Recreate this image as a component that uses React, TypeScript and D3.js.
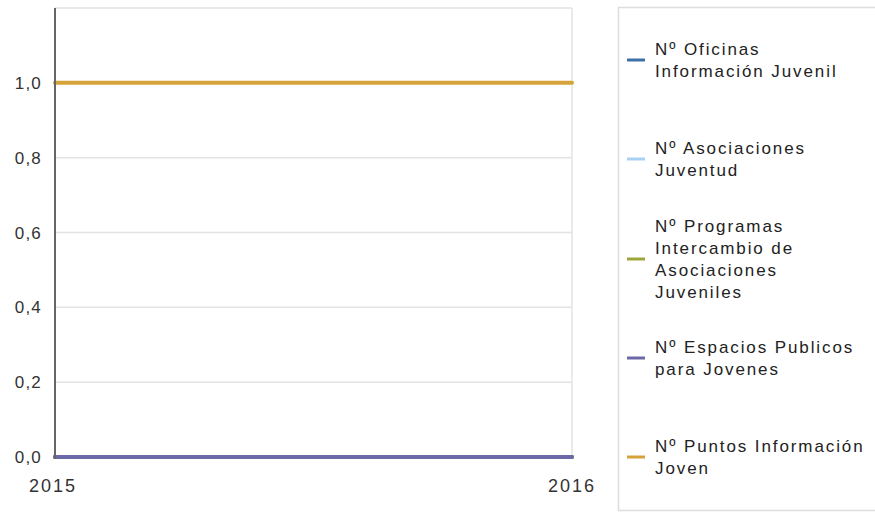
import React from "react";
import * as d3 from "d3";

const years = ["2015", "2016"];
const seriesNames = [
  ["Nº Oficinas", "Información Juvenil"],
  ["Nº Asociaciones", "Juventud"],
  ["Nº Programas", "Intercambio de", "Asociaciones", "Juveniles"],
  ["Nº Espacios Publicos", "para Jovenes"],
  ["Nº Puntos Información", "Joven"],
];
const seriesColors = ["#3d6fa6", "#a9d0f2", "#9ea63a", "#6b6aa6", "#d6a23a"];
const seriesValues = [
  [0, 0],
  [0, 0],
  [0, 0],
  [0, 0],
  [1, 1],
];
const yTicks = [0, 0.2, 0.4, 0.6, 0.8, 1.0, 1.2];
const legendSwatchY = [60, 159, 259, 358, 457];

export default function App() {
  const W = 875, H = 512;
  const left = 55, right = 572, top = 8, bottom = 457;
  const x = d3.scalePoint<string>().domain(years).range([left, right]);
  const y = d3.scaleLinear().domain([0, 1.2]).range([bottom, top]);
  const line = d3
    .line<number>()
    .x((_, i) => x(years[i]) as number)
    .y((d) => y(d));
  const font = "'Liberation Sans', Arial, sans-serif";
  const fmt = (v: number) => v.toFixed(1).replace(".", ",");
  return (
    <svg
      width={W}
      height={H}
      style={{ position: "absolute", left: 0, top: 0, background: "#fff" }}
      fontFamily={font}
    >
      {yTicks.map((t) => (
        <line key={t} x1={left} x2={right} y1={y(t)} y2={y(t)} stroke="#e3e3e3" strokeWidth={1.5} />
      ))}
      <line x1={right} x2={right} y1={top} y2={bottom} stroke="#e3e3e3" strokeWidth={1.5} />
      {yTicks
        .filter((t) => t <= 1.0001)
        .map((t) => (
          <text key={t} x={42} y={y(t) + 6} textAnchor="end" fontSize={17} fill="#333" letterSpacing={1.2}>
            {fmt(t)}
          </text>
        ))}
      {years.map((yr, i) => (
        <text key={yr} x={(x(yr) as number) + (i === 0 ? -2 : 0)} y={492} textAnchor="middle" fontSize={18} fill="#333" letterSpacing={2}>
          {yr}
        </text>
      ))}
      {seriesValues.map((vals, i) => (
        <path key={i} d={line(vals) || ""} fill="none" stroke={seriesColors[i]} strokeWidth={4} strokeLinecap="round" />
      ))}
      <line x1={left} x2={left} y1={top} y2={bottom + 2} stroke="#666" strokeWidth={2} />
      <rect x={618.5} y={7.5} width={270} height={503} fill="none" stroke="#ddd" strokeWidth={1.5} />
      {seriesNames.map((lines, i) => {
        const cy = legendSwatchY[i];
        const lh = 22;
        const startY = cy - ((lines.length - 1) * lh) / 2;
        return (
          <g key={i}>
            <line x1={627} x2={645} y1={cy} y2={cy} stroke={seriesColors[i]} strokeWidth={3} />
            {lines.map((l, j) => (
              <text key={j} x={655} y={startY + j * lh + 6} fontSize={17} fill="#222" letterSpacing={1.9}>
                {l}
              </text>
            ))}
          </g>
        );
      })}
    </svg>
  );
}
